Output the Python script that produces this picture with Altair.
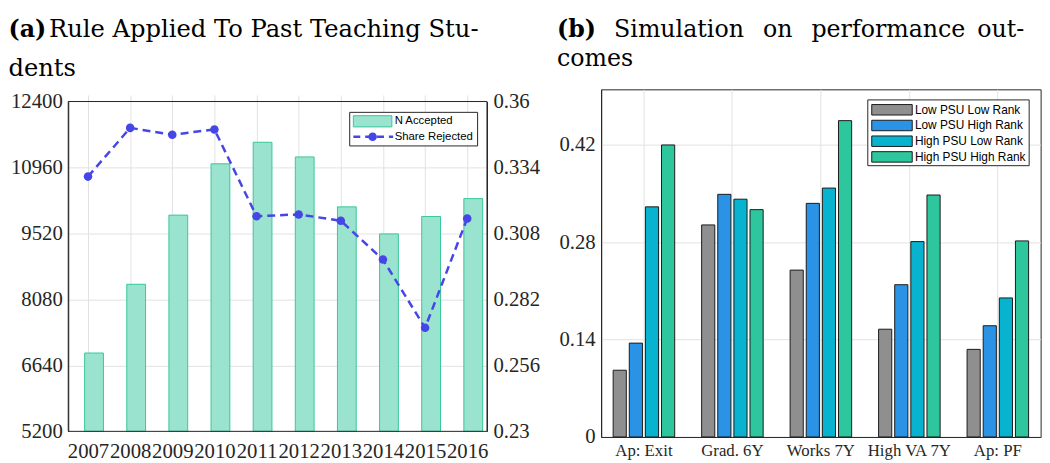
import altair as alt
import pandas as pd

# ---------------- data ----------------
years = [2007, 2008, 2009, 2010, 2011, 2012, 2013, 2014, 2015, 2016]
n_accepted = [6910, 8410, 9920, 11040, 11510, 11190, 10100, 9510, 9890, 10280]
share_rejected = [0.3304, 0.3496, 0.3469, 0.3490, 0.3148, 0.3155, 0.3130, 0.2977, 0.2708, 0.3139]
left_ticks = [5200, 6640, 8080, 9520, 10960, 12400]
right_ticks = [0.23, 0.256, 0.282, 0.308, 0.334, 0.36]

outcomes = ["Ap: Exit", "Grad. 6Y", "Works 7Y", "High VA 7Y", "Ap: PF"]
groups = ["Low PSU Low Rank", "Low PSU High Rank", "High PSU Low Rank", "High PSU High Rank"]
low_low = [0.096, 0.305, 0.240, 0.155, 0.126]
low_high = [0.135, 0.349, 0.336, 0.219, 0.160]
high_low = [0.331, 0.342, 0.358, 0.281, 0.200]
high_high = [0.420, 0.327, 0.455, 0.348, 0.282]
b_ticks = [0, 0.14, 0.28, 0.42]

# ---------------- style ----------------
SERIF = "Liberation Serif"
TSERIF = "DejaVu Serif"
SANS = "Liberation Sans"
FRAME = "#262626"
GRID = "#e2e2e2"
BAR_FILL = "#9ae3cf"
BAR_STROKE = "#38c69a"
BLUE = "#4646e6"
colors = ["#8f8f8f", "#2a93e6", "#08b3cf", "#2ec69c"]

W_A = 424
W_B, H = 445, 352           # both views share the same top/height
VIEW_TOP = 86.0             # page y of the views' top edge
A_TOP, A_BOT = 98.3 - VIEW_TOP, 432.3 - VIEW_TOP   # plot (a) inside its view

one = pd.DataFrame({"k": [0]})


def txt(text, x, y, font=TSERIF, size=24, weight="normal", align="left", baseline="alphabetic"):
    return alt.Chart(one).mark_text(text=text, font=font, fontSize=size, fontWeight=weight,
                                    align=align, baseline=baseline, color="black").encode(
        x=alt.value(x), y=alt.value(y))


# ---------------- panel (a) ----------------
dfa = pd.DataFrame({"year": years, "n": n_accepted, "share": share_rejected})
xs = alt.Scale(domain=[2006.531, 2016.469], nice=False, zero=False)
x_axis = alt.Axis(values=years, format="d", title=None, grid=True, labelOverlap=False,
                  labelFlush=False, labelPadding=9, labelBound=False, domain=False,
                  offset=-(H - A_BOT))
n_scale = alt.Scale(domain=[5200, 12400], nice=False, zero=False, range=[A_BOT, A_TOP])
share_scale = alt.Scale(domain=[0.23, 0.36], nice=False, zero=False, range=[A_BOT, A_TOP])

bars_a = alt.Chart(dfa).transform_calculate(
    x0="datum.year + 0.143 - 0.223", x1="datum.year + 0.143 + 0.223"
).mark_bar(fill=BAR_FILL, stroke=BAR_STROKE, strokeWidth=1, opacity=1).encode(
    x=alt.X("x0:Q", scale=xs, axis=x_axis),
    x2="x1:Q",
    y=alt.Y("n:Q", scale=n_scale,
            axis=alt.Axis(values=left_ticks, format="d", title=None, orient="left", grid=True)),
    y2=alt.datum(5200),
)

line_a = alt.Chart(dfa).mark_line(color=BLUE, strokeWidth=2.5, strokeDash=[8, 5]).encode(
    x=alt.X("year:Q", scale=xs, axis=x_axis),
    y=alt.Y("share:Q", scale=share_scale,
            axis=alt.Axis(values=right_ticks, format=".3~f", title=None, orient="right", grid=False)),
)
pts_a = alt.Chart(dfa).mark_circle(color=BLUE, size=75, opacity=1).encode(
    x=alt.X("year:Q", scale=xs, axis=x_axis),
    y=alt.Y("share:Q", scale=share_scale, axis=None),
)

frame_a = alt.Chart(one).mark_rect(fill="transparent", stroke=FRAME, strokeWidth=1).encode(
    x=alt.value(0), x2=alt.value(W_A), y=alt.value(A_TOP), y2=alt.value(A_BOT))

ly = A_TOP
leg_a = [
    alt.Chart(one).mark_rect(fill="white", stroke=FRAME, strokeWidth=1).encode(
        x=alt.value(285), x2=alt.value(414.5), y=alt.value(ly + 11), y2=alt.value(ly + 45)),
    alt.Chart(one).mark_rect(fill=BAR_FILL, stroke=BAR_STROKE, strokeWidth=1).encode(
        x=alt.value(288.7), x2=alt.value(327.7), y=alt.value(ly + 14.4), y2=alt.value(ly + 25.7)),
    alt.Chart(one).mark_rule(color=BLUE, strokeWidth=2.5, strokeDash=[7, 5]).encode(
        x=alt.value(288.7), x2=alt.value(329), y=alt.value(ly + 35.7)),
    alt.Chart(one).mark_circle(color=BLUE, size=75, opacity=1).encode(
        x=alt.value(308.2), y=alt.value(ly + 35.7)),
    txt("N Accepted", 330.5, ly + 20, font=SANS, size=11.5, baseline="middle"),
    txt("Share Rejected", 330.5, ly + 35.7, font=SANS, size=11.5, baseline="middle"),
]

title_a = [
    txt("(a)", -60.5, 33.3 - VIEW_TOP, weight="bold"),
    txt("Rule Applied To Past Teaching Stu-", -19.4, 33.3 - VIEW_TOP, size=24.5),
    txt("dents", -60.5, 72.5 - VIEW_TOP, size=24.5),
]

panel_a = alt.layer(bars_a, line_a, pts_a, frame_a, *leg_a, *title_a).resolve_scale(
    y="independent").properties(width=W_A, height=H, view=alt.ViewBackground(stroke=None))

# ---------------- panel (b) ----------------
rows = []
for g, vals in zip(groups, [low_low, low_high, high_low, high_high]):
    for o, v in zip(outcomes, vals):
        rows.append({"outcome": o, "group": g, "value": v})
dfb = pd.DataFrame(rows)

bars_b = alt.Chart(dfb).mark_bar(stroke="#1a1a1a", strokeWidth=1, opacity=1).encode(
    x=alt.X("outcome:N", sort=outcomes,
            scale=alt.Scale(paddingInner=0.271, paddingOuter=0.119),
            axis=alt.Axis(title=None, labelAngle=0, grid=True, bandPosition=0.5,
                          labelFontSize=17, labelPadding=6)),
    xOffset=alt.XOffset("group:N", sort=groups,
                        scale=alt.Scale(paddingInner=0.184, paddingOuter=0.092)),
    y=alt.Y("value:Q", scale=alt.Scale(domain=[0, 0.5], nice=False),
            axis=alt.Axis(values=b_ticks, format=".2~f", title=None, grid=True)),
    color=alt.Color("group:N", sort=groups, scale=alt.Scale(domain=groups, range=colors),
                    legend=None),
)

leg_b = [alt.Chart(one).mark_rect(fill="white", stroke=FRAME, strokeWidth=1).encode(
    x=alt.value(270), x2=alt.value(433.4), y=alt.value(10.7), y2=alt.value(77.3))]
for i, (g, c) in enumerate(zip(groups, colors)):
    yc = 20.7 + i * 15.9
    leg_b.append(alt.Chart(one).mark_rect(fill=c, stroke="#1a1a1a", strokeWidth=1).encode(
        x=alt.value(274), x2=alt.value(315), y=alt.value(yc - 5.3), y2=alt.value(yc + 5.3)))
    leg_b.append(txt(g, 317.7, yc, font=SANS, size=12, baseline="middle"))

title_b = []
for word, xv, w, al in [("(b)", -44.7, "bold", "left"), ("Simulation", 13.1, "normal", "left"),
                        ("on", 163.8, "normal", "left"), ("performance", 212.9, "normal", "left"),
                        ("out-", 428.4, "normal", "right")]:
    title_b.append(txt(word, xv, 32.5 - VIEW_TOP, weight=w, align=al))
title_b.append(txt("comes", -44.7, 62 - VIEW_TOP))

panel_b = alt.layer(bars_b, *leg_b, *title_b).properties(
    width=W_B, height=H, view=alt.ViewBackground(stroke=FRAME, strokeWidth=1))

chart = alt.hconcat(panel_a, panel_b, spacing=15.6).configure_view(
    stroke=FRAME, strokeWidth=1
).configure_axis(
    labelFont=SERIF, labelFontSize=21, labelColor="#262626", domainColor=FRAME,
    gridColor=GRID, ticks=False, labelPadding=6, domainWidth=1
).properties(padding={"left": 0, "top": 6.5, "right": 0, "bottom": 0}, background="white")

chart.save("out.html", embed_options={"renderer": "svg", "actions": False})
